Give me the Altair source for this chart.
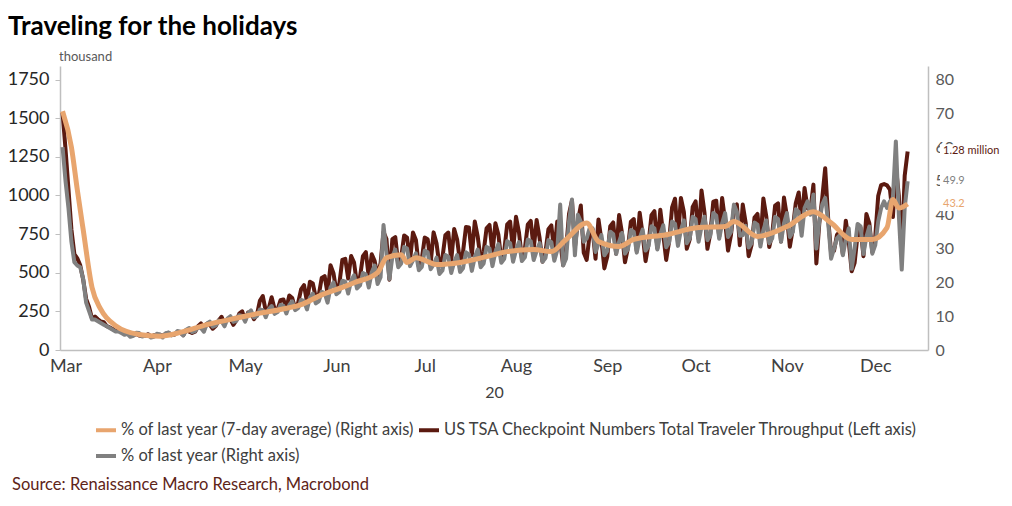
import altair as alt
import pandas as pd

SERIES_AVG = "% of last year (7-day average) (Right axis)"
SERIES_TSA = "US TSA Checkpoint Numbers Total Traveler Throughput (Left axis)"
SERIES_PCT = "% of last year (Right axis)"

ORANGE = "#e8a56e"
BROWN = "#5b1a10"
GREY = "#808080"

# daily values, Sun 15 Mar 2020 to Sun 27 Dec 2020, one line per week (Sun..Sat)
tsa_thousands = [
    1535, 1300, 1040, 780, 621, 593, 548,
    455, 331, 279, 204, 216, 199, 184,
    180, 154, 146, 136, 124, 130, 118,
    122, 108, 97, 95, 104, 94, 91,
    91, 102, 88, 95, 96, 99, 92,
    105, 111, 99, 99, 114, 112, 96,
    129, 119, 110, 118, 154, 172, 134,
    170, 163, 138, 155, 191, 215, 170,
    201, 200, 163, 191, 235, 250, 193,
    242, 240, 200, 227, 318, 349, 253,
    267, 341, 265, 261, 322, 327, 269,
    353, 336, 267, 304, 392, 420, 311,
    441, 430, 338, 353, 466, 478, 365,
    548, 497, 378, 429, 583, 590, 462,
    608, 565, 426, 470, 607, 633, 470,
    620, 575, 475, 561, 764, 718, 455,
    717, 730, 558, 599, 741, 727, 579,
    760, 712, 539, 589, 727, 717, 560,
    761, 690, 545, 597, 742, 760, 582,
    783, 715, 567, 634, 796, 793, 614,
    831, 733, 583, 635, 787, 809, 630,
    820, 748, 582, 640, 813, 831, 640,
    862, 761, 593, 653, 812, 835, 653,
    841, 725, 571, 634, 781, 806, 634,
    831, 707, 549, 647, 880, 968, 664,
    830, 935, 630, 583, 748, 780, 590,
    845, 712, 528, 605, 801, 825, 623,
    873, 756, 567, 660, 830, 847, 640,
    888, 749, 575, 686, 872, 898, 660,
    907, 748, 583, 703, 922, 979, 720,
    984, 893, 655, 715, 925, 962, 720,
    1032, 890, 655, 755, 960, 966, 732,
    984, 836, 643, 744, 916, 942, 678,
    941, 823, 607, 680, 857, 880, 690,
    981, 863, 666, 750, 935, 949, 702,
    986, 865, 668, 784, 950, 1019, 820,
    1048, 917, 908, 1070, 560, 820, 984,
    1176, 855, 629, 642, 745, 766, 620,
    837, 703, 509, 564, 747, 792, 607,
    880, 819, 634, 732, 996, 1067, 1074,
    1065, 1037, 860, 1191, 1000, 616, 1128,
    1285,
]

pct_last_year = [
    60, 50, 42, 32, 26, 25, 24.5,
    21, 14, 11.5, 9, 9, 8.5, 8,
    7.5, 7, 6.5, 6, 5.5, 5.5, 5,
    4.5, 4.8, 3.9, 4.2, 5.1, 5.0, 4.0,
    4.2, 4.5, 3.7, 3.9, 4.8, 4.6, 3.7,
    4.9, 5.2, 4.3, 4.6, 5.6, 5.4, 4.3,
    6.0, 6.5, 5.3, 5.6, 6.7, 6.5, 5.4,
    7.8, 8.4, 6.9, 7.3, 8.7, 8.5, 7.0,
    9.3, 10.0, 8.3, 8.6, 10.3, 10.1, 8.4,
    10.8, 11.7, 9.6, 10.0, 12.0, 11.8, 9.7,
    12.0, 13.0, 10.7, 11.2, 13.3, 13.1, 10.8,
    13.3, 14.4, 11.8, 12.4, 14.8, 14.5, 12.0,
    15.5, 16.7, 13.8, 14.4, 17.2, 16.9, 14.0,
    18.5, 20.0, 16.5, 17.2, 20.5, 20.2, 16.7,
    20.5, 22.1, 18.2, 19.1, 22.8, 22.3, 18.5,
    23.0, 25.0, 19.5, 21.5, 37.0, 28.5, 21.0,
    27.5, 29.7, 24.5, 25.6, 30.5, 30.0, 24.8,
    26.5, 28.6, 23.6, 24.6, 29.4, 28.9, 23.9,
    25.3, 27.3, 22.5, 23.5, 28.1, 27.6, 22.8,
    26.0, 28.1, 23.1, 24.2, 28.9, 28.3, 23.4,
    27.5, 29.7, 24.5, 25.6, 30.5, 30.0, 24.8,
    29.0, 31.3, 25.8, 27.0, 32.2, 31.6, 26.1,
    29.5, 31.9, 26.3, 27.4, 32.7, 32.2, 26.6,
    29.3, 31.6, 26.1, 27.2, 32.5, 31.9, 26.4,
    29.5, 43.0, 25.0, 27.0, 38.0, 44.5, 28.0,
    40.0, 38.0, 32.0, 33.0, 36.0, 36.0, 29.0,
    31.5, 34.0, 28.0, 29.3, 35.0, 34.3, 28.4,
    32.0, 34.6, 28.5, 29.8, 35.5, 34.9, 28.8,
    33.0, 35.6, 29.4, 30.7, 36.6, 36.0, 29.7,
    34.2, 36.9, 30.4, 31.8, 38.0, 37.3, 30.8,
    35.5, 38.3, 31.6, 33.0, 39.4, 38.7, 32.0,
    36.5, 39.4, 32.5, 33.9, 40.5, 39.8, 32.9,
    37.5, 40.5, 33.4, 34.9, 43.0, 40.9, 33.8,
    34.0, 36.7, 30.3, 31.6, 37.7, 37.1, 30.6,
    35.5, 38.3, 31.6, 33.0, 39.4, 38.7, 32.0,
    37.5, 40.5, 33.4, 34.9, 41.6, 40.9, 33.8,
    42.0, 44.0, 40.0, 46.0, 30.0, 38.0, 43.0,
    45.0, 38.0, 27.0, 30.0, 33.0, 34.0, 28.0,
    32.7, 36.0, 24.0, 30.1, 37.3, 36.6, 28.4,
    33.5, 36.5, 28.5, 31.0, 38.0, 42.0, 44.0,
    42.0, 44.0, 45.0, 61.7, 40.0, 23.8, 42.0,
    49.9,
]

# 7-day average
avg_dates = [
    "2020-03-15", "2020-03-18", "2020-03-20", "2020-03-22", "2020-03-25",
    "2020-03-28", "2020-04-02", "2020-04-10", "2020-04-17", "2020-04-24",
    "2020-05-03", "2020-05-14", "2020-05-21", "2020-05-28", "2020-06-04",
    "2020-06-11", "2020-06-18", "2020-06-22", "2020-06-30", "2020-07-03",
    "2020-07-08", "2020-07-10", "2020-07-13", "2020-07-20", "2020-07-28",
    "2020-08-06", "2020-08-13", "2020-08-22", "2020-08-28", "2020-09-02",
    "2020-09-09", "2020-09-13", "2020-09-20", "2020-09-25", "2020-10-06",
    "2020-10-17", "2020-10-26", "2020-10-29", "2020-11-06", "2020-11-16",
    "2020-11-25", "2020-12-01", "2020-12-08", "2020-12-15", "2020-12-20",
    "2020-12-22", "2020-12-24", "2020-12-27",
]
avg_pct = [
    70.6, 60.0, 47.4, 35.6, 18.5,
    12.0, 7.2, 4.6, 4.1, 5.2,
    7.5, 9.6, 10.9, 12.0, 13.4,
    16.3, 18.5, 19.9, 22.9, 27.3,
    28.2, 25.9, 27.3, 25.3, 25.9,
    27.6, 29.1, 29.7, 29.1, 32.7,
    37.6, 32.1, 30.6, 32.7, 34.1,
    36.2, 36.5, 38.0, 33.6, 36.5,
    40.9, 37.6, 32.7, 32.7, 36.2,
    44.5, 42.0, 43.2,
]

left_ticks = [0, 250, 500, 750, 1000, 1250, 1500, 1750]
right_ticks = [0, 10, 20, 30, 40, 50, 60, 70, 80]
month_ticks = [alt.DateTime(year=2020, month=m, date=16) for m in range(3, 13)]

days = pd.date_range("2020-03-15", periods=len(tsa_thousands), freq="D")
tsa_df = pd.DataFrame({"date": days, "value": tsa_thousands, "series": SERIES_TSA})
pct_df = pd.DataFrame({"date": days, "value": pct_last_year, "series": SERIES_PCT})
avg_df = pd.DataFrame({"date": pd.to_datetime(avg_dates), "value": avg_pct, "series": SERIES_AVG})

# legend grid fills column by column: orange, grey in the first column, brown in the second
legend_order = [SERIES_AVG, SERIES_PCT, SERIES_TSA]
colour = alt.Color(
    "series:N",
    scale=alt.Scale(domain=legend_order, range=[ORANGE, GREY, BROWN]),
    sort=legend_order,
    legend=alt.Legend(
        title=None, orient="none", legendX=34, legendY=352, columns=2,
        values=legend_order,
        symbolType="stroke", symbolStrokeWidth=4, symbolSize=400,
        labelFont="Lato", labelFontSize=16.5, labelColor="#404040",
        labelOffset=3, columnPadding=-4, rowPadding=5, padding=0, labelLimit=700,
    ),
)

x = alt.X(
    "date:T",
    scale=alt.Scale(domain=[alt.DateTime(year=2020, month=3, date=14, hours=3),
                            alt.DateTime(year=2021, month=1, date=2, hours=22)]),
    axis=alt.Axis(
        values=month_ticks, format="%b", title="20", ticks=False, grid=False,
        domainColor="#bfbfbf", domainWidth=1.5, labelFontSize=18, labelColor="#404040",
        labelPadding=7, labelFlush=False, labelOverlap=False,
        titleFontSize=16, titleFontWeight="normal", titleColor="#404040", titlePadding=9,
    ),
)

y_left = alt.Y(
    "value:Q",
    scale=alt.Scale(domain=[0, 1837.5], nice=False),
    axis=alt.Axis(
        orient="left", values=left_ticks, format="d", title=None, grid=False,
        tickSize=5, tickColor="#bfbfbf", domainColor="#bfbfbf", domainWidth=1.5,
        labelFontSize=18, labelColor="#262626", labelPadding=6, zindex=0,
    ),
)

y_right = alt.Y(
    "value:Q",
    scale=alt.Scale(domain=[0, 84], nice=False),
    axis=alt.Axis(
        orient="right", values=right_ticks, title=None, grid=False, ticks=False,
        domainColor="#bfbfbf", domainWidth=1.5,
        labelFontSize=16, labelColor="#595959", labelPadding=7, zindex=0,
    ),
)

box_shape = "M-1,-0.22H1V0.22H-1Z"

tsa_line = alt.Chart(tsa_df).mark_line(strokeWidth=4, strokeJoin="round").encode(
    x=x, y=y_left, color=colour
)
tsa_end = tsa_df.tail(1).assign(label="1.28 million")
tsa_box = alt.Chart(tsa_end).mark_point(
    shape=box_shape, size=4096, filled=True, color="white", opacity=1, strokeWidth=0
).encode(x=alt.value(912), y=y_left)
tsa_text = alt.Chart(tsa_end).mark_text(
    align="left", baseline="middle", fontSize=11, color=BROWN
).encode(x=alt.value(883), y=y_left, text="label:N")

pct_line = alt.Chart(pct_df).mark_line(strokeWidth=4, strokeJoin="round").encode(
    x=x, y=y_right, color=colour
)
avg_line = alt.Chart(avg_df).mark_line(strokeWidth=5, interpolate="monotone").encode(
    x=x, y=y_right, color=colour
)
right_end = pd.DataFrame({
    "value": [pct_last_year[-1], avg_pct[-1]],
    "label": [f"{pct_last_year[-1]:.1f}", f"{avg_pct[-1]:.1f}"],
})
right_box = alt.Chart(right_end).mark_point(
    shape=box_shape, size=4096, filled=True, color="white", opacity=1, strokeWidth=0
).encode(x=alt.value(912), y=y_right)
pct_text = alt.Chart(right_end.iloc[[0]]).mark_text(
    align="left", baseline="middle", fontSize=11, color=GREY
).encode(x=alt.value(883), y=y_right, text="label:N")
avg_text = alt.Chart(right_end.iloc[[1]]).mark_text(
    align="left", baseline="middle", fontSize=11, color=ORANGE
).encode(x=alt.value(883), y=y_right, text="label:N")


def note(text, px, py, **style):
    return alt.Chart(pd.DataFrame({"t": [text]})).mark_text(
        align="left", baseline="alphabetic", **style
    ).encode(x=alt.value(px), y=alt.value(py), text="t:N")


title = note("Traveling for the holidays", -52, -31, fontSize=26, fontWeight="bold", color="#000000")
unit = note("thousand", -1, -5, fontSize=13, color="#595959")
source = note("Source: Renaissance Macro Research, Macrobond", -48, 424, fontSize=16.5, color="#5e2418")

left_group = alt.layer(tsa_line, tsa_box, tsa_text)
right_group = alt.layer(pct_line, avg_line, right_box, pct_text, avg_text)

chart = (
    alt.layer(left_group, right_group, title, unit, source)
    .resolve_scale(y="independent")
    .properties(
        width=868,
        height=284,
        autosize=alt.AutoSizeParams(type="none"),
        padding={"left": 52, "top": 58, "right": 76, "bottom": 148},
    )
    .configure(font="Lato")
    .configure_view(stroke=None)
)

chart.save("out.html", embed_options={"renderer": "svg", "actions": False})
